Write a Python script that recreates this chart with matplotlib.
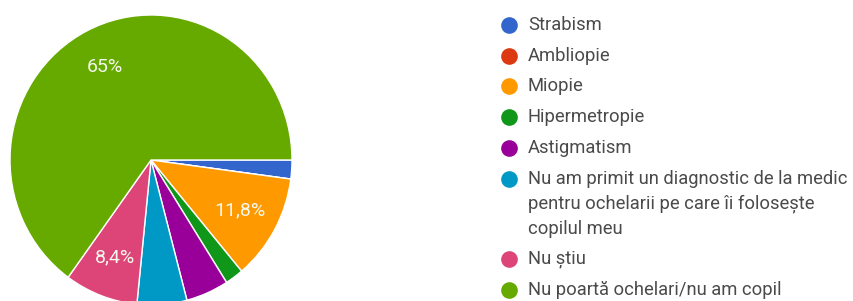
import matplotlib
matplotlib.use("Agg")
import matplotlib.pyplot as plt

labels = ["Strabism", "Ambliopie", "Miopie", "Hipermetropie", "Astigmatism",
          "Nu am primit un diagnostic de la medic\npentru ochelarii pe care îi folosește\ncopilul meu",
          "Nu știu", "Nu poartă ochelari/nu am copil"]
values = [2.1, 0.0, 11.8, 2.1, 4.9, 5.7, 8.4, 65.0]
colors = ["#3366cc", "#dc3912", "#ff9900", "#109618", "#990099", "#0099c6",
          "#dd4477", "#66aa00"]

plt.rcParams['font.family'] = ['Roboto', 'DejaVu Sans']


def fmt(p):
    if p < 7:
        return ''
    s = f'{p:.1f}'.replace('.', ',')
    if s.endswith(',0'):
        s = s[:-2]
    return s + '%'


fig = plt.figure(figsize=(8.54, 3.01), dpi=100)
ax = fig.add_axes([10 / 854, -4 / 301, 282 / 854, 290 / 301])
wedges, texts, autotexts = ax.pie(values, colors=colors, startangle=0, counterclock=False,
                                  autopct=fmt, pctdistance=0.72, radius=1,
                                  wedgeprops=dict(edgecolor='white', linewidth=1),
                                  textprops=dict(color='#f4f8ec', fontsize=14))
ax.set_aspect('auto')
ax.set_xlim(-1, 1)
ax.set_ylim(-1, 1)

# legend drawn in pixel space on an overlay axes
lax = fig.add_axes([0, 0, 1, 1])
lax.set_xlim(0, 854)
lax.set_ylim(301, 0)
lax.axis('off')
y = 25
row_pitch = 30.7
line_pitch = 25
for lab, col in zip(labels, colors):
    lax.plot(509, y, 'o', color=col, markersize=12, markeredgewidth=0)
    lines = lab.split('\n')
    for k, line in enumerate(lines):
        lax.text(528, y + k * line_pitch, line, va='center', ha='left',
                 fontsize=13.2, color='#4a4a4a')
    y += (len(lines) - 1) * line_pitch + row_pitch

fig.savefig("out.png", dpi=100)
